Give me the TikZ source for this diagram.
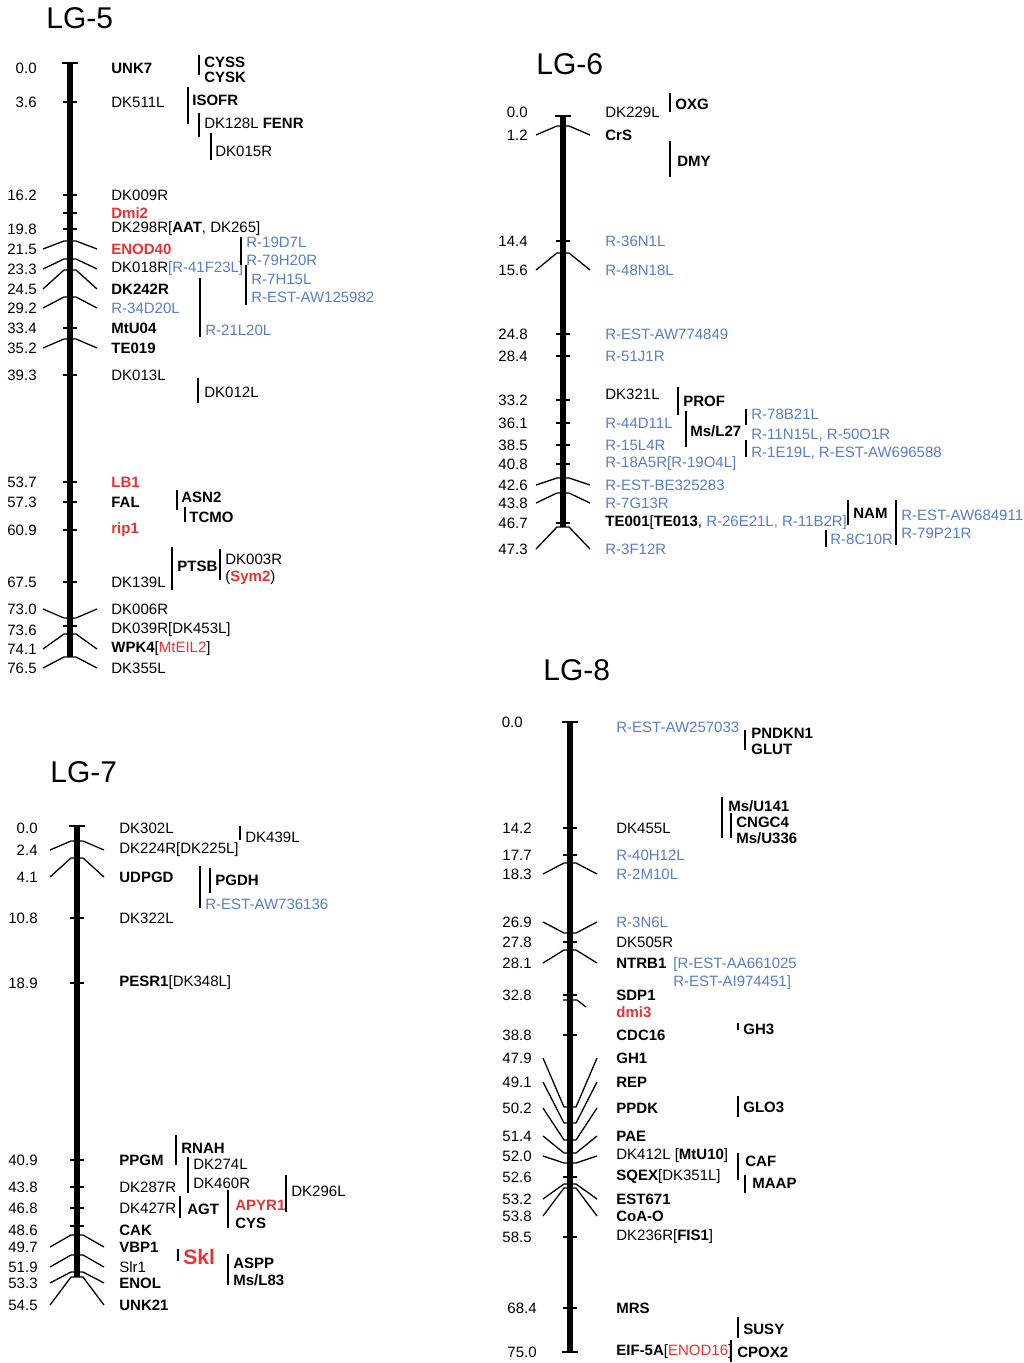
\documentclass[tikz,border=0pt]{standalone}
\usepackage{fontspec}
\setmainfont{Liberation Sans}
\usetikzlibrary{positioning}
\definecolor{mapblue}{RGB}{88,126,196}
\definecolor{mapred}{RGB}{228,52,52}
\newcommand{\bluetx}[1]{\textcolor{mapblue}{#1}}
\newcommand{\redtx}[1]{\textcolor{mapred}{\textbf{#1}}}
\newcommand{\redlt}[1]{\textcolor{mapred}{#1}}
% marker: bar y, label y, position, name
\newcommand{\maplab}[3]{%
  \node[num] at (\numx,#1) {#2};
  \node[lab] at (\labx,#1) {#3};}
\newcommand{\maptick}[1]{\draw[tick] (\bx-7,#1) -- (\bx+7,#1);}
\newcommand{\mapmark}[4]{%
  \ifdim #1pt=#2pt
    \maptick{#1}
  \else
    \draw[link] (\bx-27,#2) -- (\bx-6,#1) -- (\bx+6,#1) -- (\bx+27,#2);
  \fi
  \maplab{#2}{#3}{#4}}
\newcommand{\mapgrp}[3]{\draw[grp] (#1,#2) -- (#1,#3);}

\begin{document}
\begin{tikzpicture}[
    x=0.5pt, y=-0.5pt,
    every node/.style={font=\fontsize{7.5}{8}\selectfont, inner sep=0pt},
    lab/.style={anchor=west},
    num/.style={anchor=east},
    title/.style={anchor=west, font=\fontsize{15}{16}\selectfont},
    chrom/.style={line width=2.6pt},
    tick/.style={line width=0.8pt},
    link/.style={line width=0.65pt, line join=round},
    grp/.style={line width=0.65pt}
]
\useasboundingbox (0,0) rectangle (1023,1363);

% LG-5
\begin{scope}
\def\bx{70}\def\numx{37}\def\labx{111}
\node[title] (lg5) at (46,18) {LG-5};
\draw[chrom] (\bx,63) -- (\bx,657);
\draw[tick] (\bx-8,63) -- (\bx+8,63);
\maplab{68}{0.0}{\textbf{UNK7}}
\mapmark{102}{102}{3.6}{DK511L}
\mapmark{195}{195}{16.2}{DK009R}
\mapmark{213}{213}{}{\redtx{Dmi2}}
\mapmark{229}{229}{19.8}{DK298R[\textbf{AAT}, DK265]}
\mapmark{241}{249}{21.5}{\redtx{ENOD40}}
\mapmark{259}{269}{23.3}{DK018R\bluetx{[R-41F23L]}}
\mapmark{270}{289}{24.5}{\textbf{DK242R}}
\mapmark{297}{308}{29.2}{\bluetx{R-34D20L}}
\mapmark{328}{328}{33.4}{\textbf{MtU04}}
\mapmark{339}{348}{35.2}{\textbf{TE019}}
\mapmark{375}{375}{39.3}{DK013L}
\mapmark{482}{482}{53.7}{\redtx{LB1}}
\mapmark{502}{502}{57.3}{\textbf{FAL}}
\mapmark{530}{530}{60.9}{\redtx{rip1}}
\mapmark{582}{582}{67.5}{DK139L}
\mapmark{618}{609}{73.0}{DK006R}
\maptick{626}
\maplab{630}{73.6}{DK039R[DK453L]}
\mapmark{634}{649}{74.1}{\textbf{WPK4}[\redlt{MtEIL2}]}
\mapmark{657}{668}{76.5}{DK355L}
% side groups
\mapgrp{199}{55}{75}
\node[lab] (cyss) at (204,62) {\textbf{CYSS}};
\node[lab] (cysk) at (204,77) {\textbf{CYSK}};
\mapgrp{188}{87}{124}
\node[lab] (isofr) at (192,100) {\textbf{ISOFR}};
\mapgrp{199}{113}{137}
\node[lab] (fenr) at (204,123) {DK128L \textbf{FENR}};
\mapgrp{211}{133}{160}
\node[lab] (dk015r) at (215,151) {DK015R};
\mapgrp{241}{237}{265}
\node[lab] (r19d7l) at (246,242) {\bluetx{R-19D7L}};
\node[lab] (r79h20r) at (246,260) {\bluetx{R-79H20R}};
\mapgrp{246}{265}{305}
\node[lab] (r7h15l) at (251,279) {\bluetx{R-7H15L}};
\node[lab] (raw125) at (251,297) {\bluetx{R-EST-AW125982}};
\mapgrp{200}{278}{337}
\node[lab] (r21l20l) at (205,330) {\bluetx{R-21L20L}};
\mapgrp{198}{378}{403}
\node[lab] (dk012l) at (204,392) {DK012L};
\mapgrp{177}{490}{510}
\node[lab] (asn2) at (181,497) {\textbf{ASN2}};
\mapgrp{185}{507}{522}
\node[lab] (tcmo) at (189,517) {\textbf{TCMO}};
\mapgrp{172}{547}{590}
\node[lab] (ptsb) at (177,566) {\textbf{PTSB}};
\mapgrp{220}{549}{580}
\node[lab] (dk003r) at (225,559) {DK003R};
\node[lab] (sym2) at (225,578) {(\redtx{Sym2})};
\end{scope}

% LG-6
\begin{scope}
\def\bx{563}\def\numx{528}\def\labx{605}
\node[title] (lg6) at (536,64) {LG-6};
\draw[chrom] (\bx,116) -- (\bx,527);
\draw[tick] (\bx-8,116) -- (\bx+8,116);
\maplab{112}{0.0}{DK229L}
\mapmark{126}{135}{1.2}{\textbf{CrS}}
\mapmark{241}{241}{14.4}{\bluetx{R-36N1L}}
\mapmark{253}{270}{15.6}{\bluetx{R-48N18L}}
\mapmark{334}{334}{24.8}{\bluetx{R-EST-AW774849}}
\mapmark{356}{356}{28.4}{\bluetx{R-51J1R}}
\maptick{400}
\node[num] at (\numx,400) {33.2};
\node[lab] (dk321l) at (\labx,394) {DK321L};
\mapmark{423}{423}{36.1}{\bluetx{R-44D11L}}
\mapmark{445}{445}{38.5}{\bluetx{R-15L4R}}
\mapmark{464}{464}{40.8}{\bluetx{R-18A5R[R-19O4L]}}
\mapmark{478}{485}{42.6}{\bluetx{R-EST-BE325283}}
\mapmark{493}{503}{43.8}{\bluetx{R-7G13R}}
\mapmark{523}{523}{46.7}{\textbf{TE001}[\textbf{TE013}, \bluetx{R-26E21L, R-11B2R]}}
\mapmark{527}{549}{47.3}{\bluetx{R-3F12R}}
% side groups
\mapgrp{670}{93}{112}
\node[lab] (oxg) at (675,104) {\textbf{OXG}};
\mapgrp{670}{141}{177}
\node[lab] (dmy) at (677,161) {\textbf{DMY}};
\mapgrp{678}{387}{415}
\node[lab] (prof) at (683,401) {\textbf{PROF}};
\mapgrp{686}{411}{447}
\node[lab] (msl27) at (690,431) {\textbf{Ms/L27}};
\mapgrp{746}{409}{425}
\node[lab] (r78b21l) at (751,414) {\bluetx{R-78B21L}};
\node[lab] (r11n15l) at (751,435) {\bluetx{R-11N15L, R-50O1R}};
\mapgrp{746}{440}{457}
\node[lab] (r1e19l) at (751,453) {\bluetx{R-1E19L, R-EST-AW696588}};
\mapgrp{848}{500}{525}
\node[lab] (nam) at (853,513) {\textbf{NAM}};
\mapgrp{826}{530}{547}
\node[lab] (r8c10r) at (830,539) {\bluetx{R-8C10R}};
\mapgrp{896}{500}{545}
\node[lab] (raw684) at (901,515) {\bluetx{R-EST-AW684911}};
\node[lab] (r79p21r) at (901,533) {\bluetx{R-79P21R}};
\end{scope}

% LG-7
\begin{scope}
\def\bx{77}\def\numx{38}\def\labx{119}
\node[title] (lg7) at (50,772) {LG-7};
\draw[chrom] (\bx,826) -- (\bx,1277);
\draw[tick] (\bx-8,826) -- (\bx+8,826);
\maplab{828}{0.0}{DK302L}
\mapmark{841}{850}{2.4}{DK224R[DK225L]}
\mapmark{858}{877}{4.1}{\textbf{UDPGD}}
\mapmark{918}{918}{10.8}{DK322L}
\mapmark{983}{983}{18.9}{\textbf{PESR1}[DK348L]}
\mapmark{1160}{1160}{40.9}{\textbf{PPGM}}
\mapmark{1187}{1187}{43.8}{DK287R}
\mapmark{1208}{1208}{46.8}{DK427R}
\maptick{1226}
\maplab{1230}{48.6}{\textbf{CAK}}
\mapmark{1235}{1247}{49.7}{\textbf{VBP1}}
\mapmark{1255}{1267}{51.9}{Slr1}
\mapmark{1272}{1283}{53.3}{\textbf{ENOL}}
\mapmark{1277}{1305}{54.5}{\textbf{UNK21}}
% side groups
\mapgrp{240}{826}{840}
\node[lab] (dk439l) at (245,837) {DK439L};
\mapgrp{200}{866}{908}
\mapgrp{210}{868}{893}
\node[lab] (pgdh) at (215,880) {\textbf{PGDH}};
\node[lab] (raw736) at (205,904) {\bluetx{R-EST-AW736136}};
\mapgrp{176}{1135}{1165}
\node[lab] (rnah) at (181,1148) {\textbf{RNAH}};
\mapgrp{188}{1157}{1193}
\node[lab] (dk274l) at (193,1164) {DK274L};
\node[lab] (dk460r) at (193,1183) {DK460R};
\mapgrp{286}{1175}{1212}
\node[lab] (dk296l) at (291,1191) {DK296L};
\mapgrp{180}{1196}{1218}
\node[lab] (agt) at (187,1209) {\textbf{AGT}};
\mapgrp{228}{1190}{1228}
\node[lab] (apyr1) at (235,1205) {\redtx{APYR1}};
\node[lab] (cys) at (235,1223) {\textbf{CYS}};
\mapgrp{178}{1249}{1261}
\node[lab, font=\fontsize{10.5}{11}\selectfont] (skl) at (183,1257) {\redtx{Skl}};
\mapgrp{228}{1254}{1285}
\node[lab] (aspp) at (233,1263) {\textbf{ASPP}};
\node[lab] (msl83) at (233,1280) {\textbf{Ms/L83}};
\end{scope}

% LG-8
\begin{scope}
\def\bx{570}\def\numx{532}\def\labx{616}
\node[title] (lg8) at (543,670) {LG-8};
\draw[chrom] (\bx,722) -- (\bx,1352);
\draw[tick] (\bx-8,722) -- (\bx+8,722);
\draw[tick] (\bx-8,1352) -- (\bx+8,1352);
\node[num] at (523,722) {0.0};
\node[lab] (raw257) at (\labx,727) {\bluetx{R-EST-AW257033}};
\mapmark{828}{828}{14.2}{DK455L}
\mapmark{855}{855}{17.7}{\bluetx{R-40H12L}}
\mapmark{863}{874}{18.3}{\bluetx{R-2M10L}}
\mapmark{933}{922}{26.9}{\bluetx{R-3N6L}}
\mapmark{942}{942}{27.8}{DK505R}
\mapmark{950}{963}{28.1}{\textbf{NTRB1}}
\mapmark{995}{995}{32.8}{\textbf{SDP1}}
\draw[link] (\bx-7,1000) -- (\bx+7,1000) -- (\bx+16,1007);
\node[lab] (dmi3) at (\labx,1012) {\redtx{dmi3}};
\mapmark{1035}{1035}{38.8}{\textbf{CDC16}}
\mapmark{1107}{1058}{47.9}{\textbf{GH1}}
\mapmark{1123}{1082}{49.1}{\textbf{REP}}
\mapmark{1140}{1108}{50.2}{\textbf{PPDK}}
\mapmark{1153}{1136}{51.4}{\textbf{PAE}}
\mapmark{1163}{1156}{52.0}{DK412L [\textbf{MtU10}]}
\mapmark{1177}{1177}{52.6}{\textbf{SQEX}[DK351L]}
\mapmark{1184}{1199}{53.2}{\textbf{EST671}}
\mapmark{1188}{1216}{53.8}{\textbf{CoA-O}}
\mapmark{1237}{1237}{58.5}{DK236R[\textbf{FIS1}]}
\maptick{1308}
\node[num] at (537,1308) {68.4};
\node[lab] (mrs) at (\labx,1308) {\textbf{MRS}};
\node[num] at (537,1352) {75.0};
\node[lab] (eif5a) at (\labx,1352) {\textbf{EIF-5A}[\redlt{ENOD16}]};
% side groups
\mapgrp{745}{730}{750}
\node[lab] (pndkn1) at (751,733) {\textbf{PNDKN1}};
\node[lab] (glut) at (751,749) {\textbf{GLUT}};
\mapgrp{722}{797}{838}
\node[lab] (msu141) at (728,806) {\textbf{Ms/U141}};
\mapgrp{731}{813}{838}
\node[lab] (cngc4) at (736,822) {\textbf{CNGC4}};
\node[lab] (msu336) at (736,838) {\textbf{Ms/U336}};
\node[lab] (raa661) at (673,965) {\bluetx{[R-EST-AA661025}};
\node[lab] (rai974) at (673,983) {\bluetx{R-EST-AI974451]}};
\mapgrp{738}{1023}{1030}
\node[lab] (gh3) at (743,1029) {\textbf{GH3}};
\mapgrp{738}{1096}{1117}
\node[lab] (glo3) at (743,1107) {\textbf{GLO3}};
\mapgrp{738}{1153}{1180}
\node[lab] (caf) at (745,1161) {\textbf{CAF}};
\mapgrp{745}{1175}{1193}
\node[lab] (maap) at (752,1183) {\textbf{MAAP}};
\mapgrp{738}{1317}{1338}
\node[lab] (susy) at (743,1329) {\textbf{SUSY}};
\mapgrp{731}{1340}{1362}
\node[lab] (cpox2) at (737,1352) {\textbf{CPOX2}};
\end{scope}
\end{tikzpicture}
\end{document}
